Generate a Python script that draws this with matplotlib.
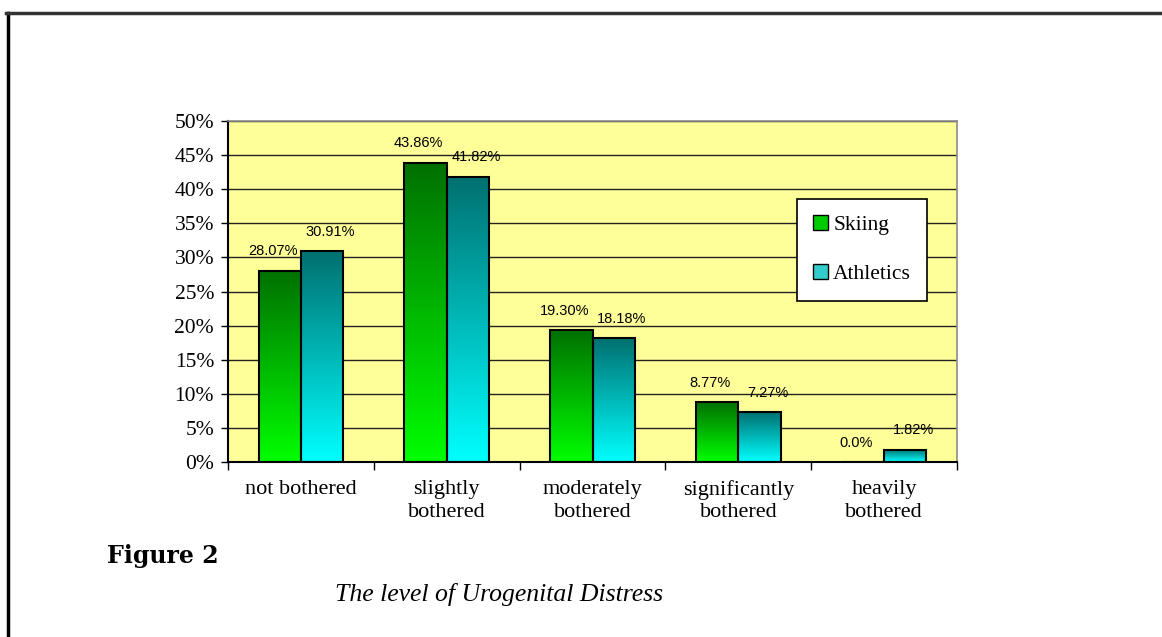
import numpy as np
import matplotlib
matplotlib.use("Agg")
import matplotlib.pyplot as plt
from matplotlib.patches import Patch
from matplotlib.lines import Line2D
from matplotlib.colors import to_rgb

categories = ["not bothered", "slightly\nbothered", "moderately\nbothered",
              "significantly\nbothered", "heavily\nbothered"]
skiing = [28.07, 43.86, 19.30, 8.77, 0.0]
athletics = [30.91, 41.82, 18.18, 7.27, 1.82]
skiing_labels = ["28.07%", "43.86%", "19.30%", "8.77%", "0.0%"]
athletics_labels = ["30.91%", "41.82%", "18.18%", "7.27%", "1.82%"]


def gradient_bars(ax, bars, top_color, bottom_color):
    """Fill each bar with a vertical gradient, keep the black edge on top."""
    top = np.array(to_rgb(top_color))
    bot = np.array(to_rgb(bottom_color))
    t = np.linspace(0, 1, 256)[:, None]
    grad = (bot * (1 - t) + top * t)[:, None, :]
    for b in bars:
        x, w, h = b.get_x(), b.get_width(), b.get_height()
        if h <= 0:
            continue
        ax.imshow(grad, extent=(x, x + w, 0, h), origin="lower",
                  aspect="auto", zorder=2, interpolation="bilinear")
        b.set_facecolor("none")
        b.set_zorder(3)


def main():
    fig = plt.figure(figsize=(11.62, 6.37), dpi=100)
    ax = fig.add_axes([0.1962, 0.2747, 0.6274, 0.5353])
    ax.set_facecolor("#FFFF99")

    x = np.arange(len(categories))
    w = 0.29
    b1 = ax.bar(x - w / 2, skiing, w, edgecolor="black", linewidth=1.5)
    b2 = ax.bar(x + w / 2, athletics, w, edgecolor="black", linewidth=1.5)
    gradient_bars(ax, b1, "#007000", "#00FF00")
    gradient_bars(ax, b2, "#007070", "#00FFFF")

    for bars, labs, dx in ((b1, skiing_labels, -5), (b2, athletics_labels, 6)):
        for b, lab in zip(bars, labs):
            ax.annotate(lab, (b.get_x() + b.get_width() / 2, b.get_height()),
                        xytext=(dx, 9), textcoords="offset points",
                        ha="center", va="bottom", fontsize=10.5,
                        family="Liberation Sans", zorder=5)

    ax.set_xlim(-0.5, len(categories) - 0.5)
    ax.set_ylim(0, 50)
    ax.set_yticks(range(0, 51, 5))
    ax.set_yticklabels([f"{v}%" for v in range(0, 51, 5)],
                       family="Liberation Serif", fontsize=15.5)
    ax.yaxis.grid(True, color="#222222", linewidth=1)
    ax.set_axisbelow(True)

    ax.set_xticks(np.arange(-0.5, len(categories), 1.0))
    ax.set_xticklabels([])
    ax.set_xticks(x, minor=True)
    ax.set_xticklabels(categories, minor=True, family="Liberation Serif",
                       fontsize=16, linespacing=1.25)
    ax.tick_params(axis="x", which="minor", length=0, pad=13)
    ax.tick_params(axis="x", which="major", length=6, width=1, direction="out")
    ax.tick_params(axis="y", length=5, width=1, direction="out", pad=5)

    for s in ("left", "bottom"):
        ax.spines[s].set_color("black")
        ax.spines[s].set_linewidth(1.5)
    for s in ("top", "right"):
        ax.spines[s].set_color("#8c8c8c")
        ax.spines[s].set_linewidth(1.2)

    handles = [Patch(facecolor="#00CC00", edgecolor="black", label="Skiing"),
               Patch(facecolor="#33CCCC", edgecolor="black", label="Athletics")]
    leg = ax.legend(handles=handles, loc="upper left",
                    bbox_to_anchor=(0.780, 0.771), frameon=True,
                    fancybox=False, shadow=False, borderpad=0.75,
                    labelspacing=1.35, handlelength=0.7, handleheight=0.7,
                    handletextpad=0.25, borderaxespad=0,
                    prop={"family": "Liberation Serif", "size": 15.5})
    leg.get_frame().set_edgecolor("black")
    leg.get_frame().set_linewidth(1.2)
    leg.get_frame().set_facecolor("white")
    leg.get_frame().set_alpha(1)

    # page border
    fig.add_artist(Line2D([7.5 / 1162, 7.5 / 1162], [0, 1 - 13 / 637],
                          color="black", linewidth=2.5))
    fig.add_artist(Line2D([6 / 1162, 1], [1 - 13 / 637, 1 - 13 / 637],
                          color="#333333", linewidth=2.5))

    fig.text(107 / 1162, 1 - 556 / 637, "Figure 2", fontsize=17,
             fontweight="bold", family="DejaVu Serif", va="center")
    fig.text(499 / 1162, 1 - 594 / 637, "The level of Urogenital Distress",
             fontsize=18.5, style="italic", family="Liberation Serif",
             ha="center", va="center")

    fig.savefig("out.png", dpi=100)


if __name__ == "__main__":
    main()
